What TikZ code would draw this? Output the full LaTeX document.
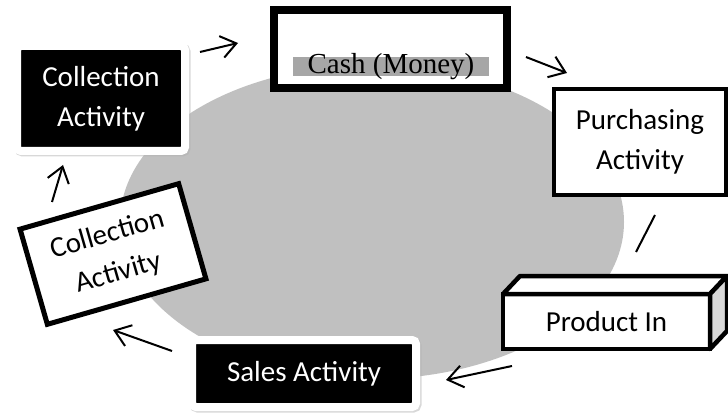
\documentclass[tikz,border=0pt]{standalone}
\usepackage{fontspec}
\setmainfont{Carlito}
\newfontfamily\cashfont{Liberation Serif}
\usetikzlibrary{arrows.meta,shadows}
\definecolor{ovalgray}{HTML}{C0C0C0}
\definecolor{markgray}{HTML}{A6A6A6}
\definecolor{sidegray}{HTML}{D9D9D9}

\begin{document}
\begin{tikzpicture}[x=1pt,y=-1pt,
  lbl/.style={font=\fontsize{29}{40}\selectfont,align=center},
  darkbox/.style={lbl,fill=black,text=white,draw=white,line width=8pt,rounded corners=4pt,
    drop shadow={draw=black!30,fill=black!30,line width=8pt,shadow xshift=1.5pt,shadow yshift=-1.5pt,opacity=.5}},
  linebox/.style={lbl,fill=white,draw=black},
  flow/.style={line width=2pt,-{Straight Barb[length=15pt,width=22pt]}}]
\useasboundingbox (0,0) rectangle (728,414);
\fill[ovalgray] (372,222) ellipse [x radius=252pt,y radius=157pt];
\node[darkbox,minimum width=168pt,minimum height=105pt] (coll) at (101,98.5) {Collection\\Activity};
\node[linebox,line width=8pt,minimum width=233pt,minimum height=78pt] (cash) at (390.5,49) {};
\fill[markgray] (293,57) rectangle (489,76);
\node[anchor=base,inner sep=0pt,font=\cashfont\fontsize{29}{34}\selectfont] (cashtxt) at (391,74) {Cash (Money)};
\node[linebox,line width=4pt,minimum width=172pt,minimum height=106pt] (purch) at (640,142) {Purchasing\\Activity};
\node[linebox,line width=4.5pt,outer sep=0pt,minimum width=207pt,minimum height=55pt] (prod) at (606.5,321.5) {Product In};
\draw[line width=4.5pt,line join=round,fill=white] (prod.north west) -- ++(17,-18) -- ++(207,0) -- (prod.north east) -- cycle;
\draw[line width=4.5pt,line join=round,fill=sidegray] (prod.north east) -- ++(17,-18) -- ++(0,55) -- (prod.south east) -- cycle;
\node[darkbox,minimum width=224pt,minimum height=67pt] (sales) at (304,373.5) {Sales Activity};
\node[linebox,line width=5pt,rotate=16,minimum width=165pt,minimum height=99pt] (coll2) at (113,254) {Collection\\Activity};
\coordinate (c1) at (200,52); \coordinate (c2) at (238,43);
\coordinate (c3) at (526,57); \coordinate (c4) at (567,73);
\coordinate (c5) at (655,215); \coordinate (c6) at (636,252);
\coordinate (c7) at (512,366); \coordinate (c8) at (446,380);
\coordinate (c9) at (172,351); \coordinate (c10) at (113,330);
\coordinate (c11) at (52,202); \coordinate (c12) at (63,165);
\draw[flow] (c1) -- (c2);
\draw[flow] (c3) -- (c4);
\draw[line width=2pt] (c5) -- (c6);
\draw[flow] (c7) -- (c8);
\draw[flow] (c9) -- (c10);
\draw[flow] (c11) -- (c12);
\end{tikzpicture}
\end{document}
